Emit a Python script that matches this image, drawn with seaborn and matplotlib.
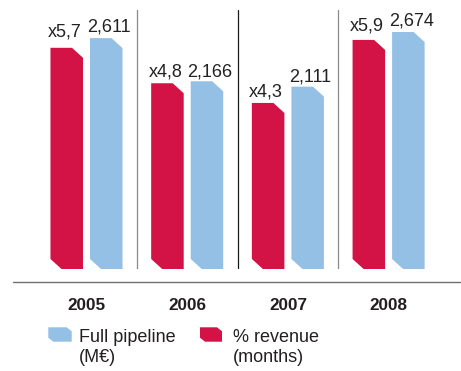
import matplotlib
matplotlib.use('Agg')
import matplotlib.pyplot as plt
from matplotlib.patches import Polygon, Rectangle
from matplotlib.lines import Line2D
import pandas as pd
import seaborn as sns

# ---- data ----
years = ['2005', '2006', '2007', '2008']
revenue_months = [5.7, 4.8, 4.3, 5.9]
pipeline_meur = [2611, 2166, 2111, 2674]
series_names = ['% revenue', 'Full pipeline']
legend_red = ['% revenue', '(months)']
legend_blue = ['Full pipeline', '(M€)']

RED = '#D31245'
BLUE = '#95C0E6'

sns.set_theme(style='white')
plt.rcParams['font.family'] = ['Liberation Sans', 'DejaVu Sans']

W, H = 461, 371
fig = plt.figure(figsize=(W / 100, H / 100), dpi=100)
fig.patch.set_facecolor('white')
BASE_PX = 269  # bar bottom, pixels from top
ax = fig.add_axes([0, 1 - BASE_PX / H, 1, BASE_PX / H])
ax2 = ax.twinx()

df_red = pd.DataFrame({'year': years, 'value': revenue_months, 'series': series_names[0]})
df_blue = pd.DataFrame({'year': years, 'value': pipeline_meur, 'series': series_names[1]})
pal = {series_names[0]: RED, series_names[1]: BLUE}
common = dict(x='year', y='value', hue='series', hue_order=series_names, order=years,
              palette=pal, width=0.785, gap=0.177, saturation=1, errorbar=None,
              dodge=True, legend=False)
sns.barplot(data=df_red, ax=ax, **common)
sns.barplot(data=df_blue, ax=ax2, **common)

XLIM = (-0.859, 3.719)
RED_LIM = (0.086, 6.913)
BLUE_LIM = (231, 3004)


def set_lims():
    ax.set_xlim(*XLIM)
    ax2.set_xlim(*XLIM)
    ax.set_ylim(*RED_LIM)
    ax2.set_ylim(*BLUE_LIM)


set_lims()
for a in (ax, ax2):
    a.axis('off')
ax2.patch.set_visible(False)


def chamfer_bars(a, cw=11, ch=10):
    ybot = a.get_ylim()[0]
    info = []
    rects = [p for p in a.patches if isinstance(p, Rectangle)]
    for r in rects:
        x0, w = r.get_x(), r.get_width()
        top = r.get_y() + r.get_height()
        L, B = a.transData.transform((x0, ybot))
        R, T = a.transData.transform((x0 + w, top))
        pts = [(L, B + ch), (L, T), (R - cw, T), (R, T - ch), (R, B), (L + cw, B)]
        dpts = a.transData.inverted().transform(pts)
        poly = Polygon(dpts, closed=True, facecolor=r.get_facecolor(),
                       edgecolor='none', lw=0)
        info.append((x0 + w / 2, top))
        r.remove()
        a.add_patch(poly)
    return info


red_info = chamfer_bars(ax)
blue_info = chamfer_bars(ax2)
set_lims()

# value labels
red_pad = [11, 6.5, 6.5, 9]
blue_pad = [6.3, 5, 5.6, 7]
for (cx, top), v, p in zip(red_info, revenue_months, red_pad):
    ax.annotate('x' + f'{v:.1f}'.replace('.', ','), xy=(cx, top), xytext=(-2, p),
                textcoords='offset pixels', ha='center', va='baseline',
                fontsize=13, color='#222222')
for (cx, top), v, p in zip(blue_info, pipeline_meur, blue_pad):
    ax2.annotate(f'{v:,}', xy=(cx, top), xytext=(3, p),
                 textcoords='offset pixels', ha='center', va='baseline',
                 fontsize=13, color='#222222')

# separators
sep_colors = ['#8a8a8a', '#1a1a1a', '#8a8a8a']
for i in range(len(years) - 1):
    ax.axvline(i + 0.5, ymin=0, ymax=(BASE_PX - 10) / BASE_PX,
               color=sep_colors[i], lw=0.9)

# baseline
fig.add_artist(Line2D([12.7 / W, 460 / W], [1 - 282.3 / H] * 2,
                      color='#6f6f6f', lw=1.0))

# year labels
for i, y in enumerate(years):
    ax.text(i, (BASE_PX - 310) / BASE_PX, y, transform=ax.get_xaxis_transform(),
            ha='center', va='baseline', fontsize=12.3, fontweight='bold',
            color='#231f20')


# legend
def fig_pt(x, y):
    return (x / W, 1 - y / H)


def legend_patch(L, T, R, B, color, cw=5, ch=4):
    pts = [(L, B - ch), (L, T), (R - cw, T), (R, T + ch), (R, B), (L + cw, B)]
    fig.add_artist(Polygon([fig_pt(*p) for p in pts], closed=True,
                           transform=fig.transFigure, facecolor=color,
                           edgecolor='none', lw=0))


legend_patch(48.3, 327.3, 71.7, 341.7, BLUE)
legend_patch(200, 327.3, 222, 341.7, RED)
for lines, x in ((legend_blue, 79.3), (legend_red, 232.7)):
    for line, yb in zip(lines, (342.3, 362.5)):
        fig.text(*fig_pt(x, yb), line, ha='left', va='baseline',
                 fontsize=13, color='#231f20')

fig.savefig('out.png', dpi=100, facecolor='white')
